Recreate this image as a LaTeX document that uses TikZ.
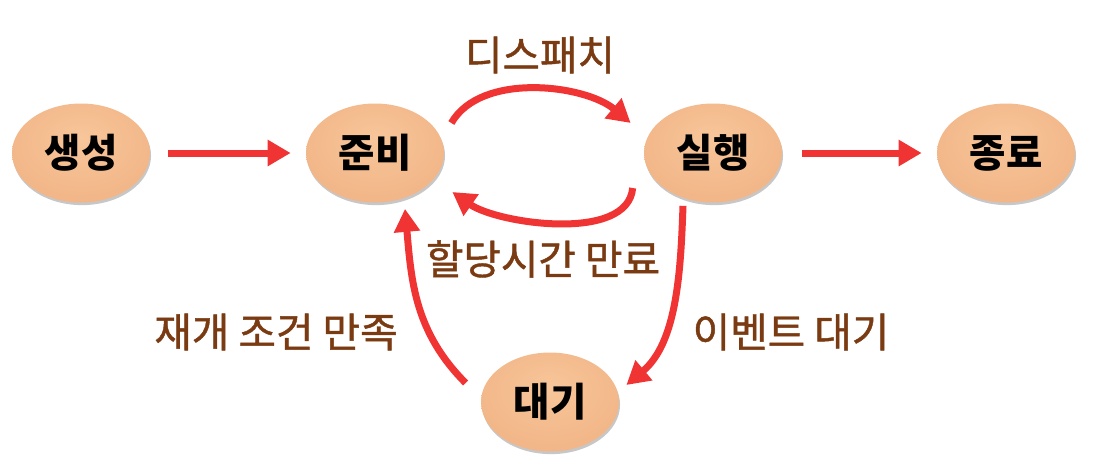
\documentclass[tikz,border=0pt]{standalone}
\usepackage{fontspec}
\setmainfont{Noto Sans CJK KR}
\newfontfamily\lblfont[FakeBold=1.1]{Noto Sans CJK KR}
\usetikzlibrary{shapes.geometric,arrows.meta,shadows}
\definecolor{arrred}{RGB}{240,52,52}
\definecolor{lblbrown}{RGB}{122,58,18}
\pgfdeclareradialshading{peach}{\pgfpoint{0bp}{8bp}}{%
  color(0bp)=(rgb,255:red,247;green,198;blue,154);
  color(28bp)=(rgb,255:red,242;green,182;blue,136);
  color(41bp)=(rgb,255:red,233;green,167;blue,120);
  color(47bp)=(rgb,255:red,204;green,138;blue,92);
  color(53bp)=(rgb,255:red,152;green,98;blue,62);
  color(60bp)=(rgb,255:red,128;green,82;blue,52)}
\begin{document}
\begin{tikzpicture}[x=0.02cm,y=-0.02cm,
  stnode/.style={ellipse, minimum width=2.76cm, minimum height=1.98cm, inner sep=0pt,
    shading=peach, drop shadow={shadow xshift=0.6pt,shadow yshift=-1.5pt,fill=black,opacity=0.22},
    font=\fontsize{22.5}{26}\selectfont\bfseries, text=black},
  lbl/.style={font=\fontsize{23.2}{27}\selectfont\lblfont, text=lblbrown, inner sep=0pt},
  arr/.style={draw=arrred, line width=0.14cm, -{Triangle[length=0.46cm,width=0.5cm]}}]
\useasboundingbox (0,0) rectangle (1116,474);
\node[stnode] (sc) at (81,153) {생성};
\node[stnode] (jb) at (375,153) {준비};
\node[stnode] (sh) at (713,153) {실행};
\node[stnode] (jr) at (1006,153) {종료};
\node[stnode] (dg) at (550,402) {대기};
\node[lbl] (l1) at (540,55) {디스패치};
\node[lbl] (l2) at (543,259) {할당시간 만료};
\node[lbl] (l3) at (276,332) {재개 조건 만족};
\node[lbl] (l4) at (791,332) {이벤트 대기};
\draw[arr, shorten <=0.36cm, shorten >=0.3cm] (sc.east) -- (jb.west);
\draw[arr] ([shift={(7,-30)}]jb.east) to[out=60,in=140,looseness=0.85] ([shift={(-13,-30)}]sh.west);
\draw[arr] ([shift={(-11,35)}]sh.west) to[out=-95,in=-35,looseness=0.78] ([shift={(8,39)}]jb.east);
\draw[arr] ([shift={(-30,3)}]sh.south) to[out=-92,in=40,looseness=0.9] ([shift={(7,-17)}]dg.east);
\draw[arr] ([shift={(-15,-19)}]dg.west) to[out=135,in=-85] ([shift={(30,6)}]jb.south);
\draw[arr, shorten <=0.4cm, shorten >=0.3cm] (sh.east) -- (jr.west);
\end{tikzpicture}
\end{document}
